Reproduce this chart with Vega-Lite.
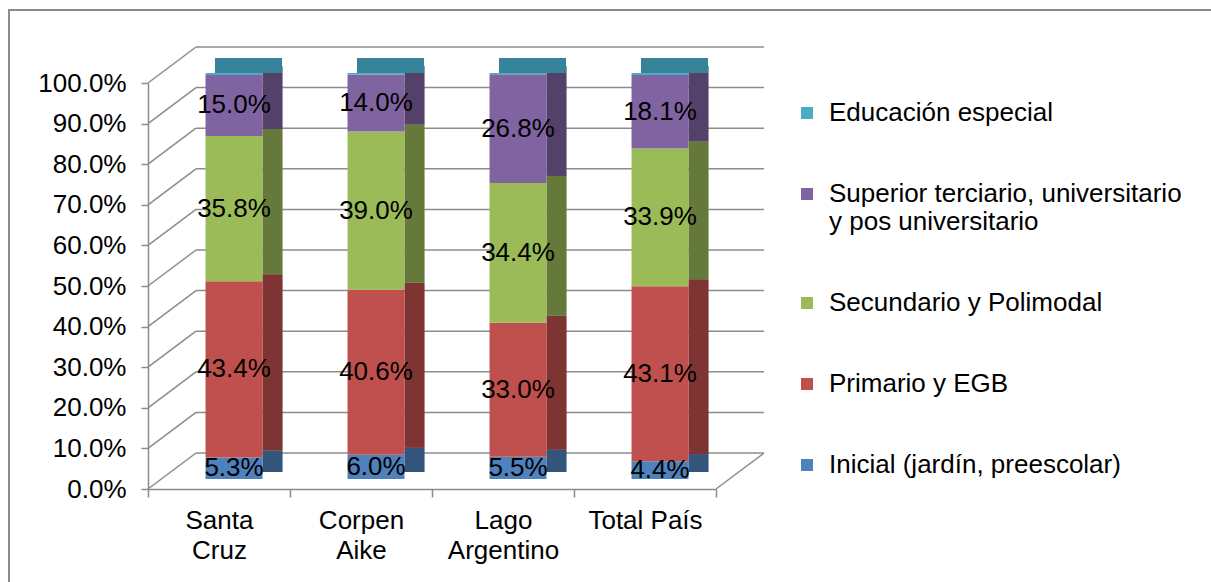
{
  "$schema": "https://vega.github.io/schema/vega-lite/v6.json",
  "width": 1204,
  "height": 574,
  "autosize": {"type": "none"},
  "padding": {"left": 9, "top": 10, "right": -2, "bottom": -2},
  "background": "white",
  "config": {
    "font": "Liberation Sans",
    "view": {"stroke": "#8c8c8c", "strokeWidth": 2},
    "axis": {"title": null, "grid": false}
  },
  "datasets": {
    "niveles": [
      {"region": "Santa Cruz", "nivel": "Inicial (jardín, preescolar)", "orden": 1, "valor": 0.053},
      {"region": "Santa Cruz", "nivel": "Primario y EGB", "orden": 2, "valor": 0.434},
      {"region": "Santa Cruz", "nivel": "Secundario y Polimodal", "orden": 3, "valor": 0.358},
      {"region": "Santa Cruz", "nivel": "Superior terciario, universitario y pos universitario", "orden": 4, "valor": 0.150},
      {"region": "Santa Cruz", "nivel": "Educación especial", "orden": 5, "valor": 0.005},
      {"region": "Corpen Aike", "nivel": "Inicial (jardín, preescolar)", "orden": 1, "valor": 0.060},
      {"region": "Corpen Aike", "nivel": "Primario y EGB", "orden": 2, "valor": 0.406},
      {"region": "Corpen Aike", "nivel": "Secundario y Polimodal", "orden": 3, "valor": 0.390},
      {"region": "Corpen Aike", "nivel": "Superior terciario, universitario y pos universitario", "orden": 4, "valor": 0.140},
      {"region": "Corpen Aike", "nivel": "Educación especial", "orden": 5, "valor": 0.004},
      {"region": "Lago Argentino", "nivel": "Inicial (jardín, preescolar)", "orden": 1, "valor": 0.055},
      {"region": "Lago Argentino", "nivel": "Primario y EGB", "orden": 2, "valor": 0.330},
      {"region": "Lago Argentino", "nivel": "Secundario y Polimodal", "orden": 3, "valor": 0.344},
      {"region": "Lago Argentino", "nivel": "Superior terciario, universitario y pos universitario", "orden": 4, "valor": 0.268},
      {"region": "Lago Argentino", "nivel": "Educación especial", "orden": 5, "valor": 0.003},
      {"region": "Total País", "nivel": "Inicial (jardín, preescolar)", "orden": 1, "valor": 0.044},
      {"region": "Total País", "nivel": "Primario y EGB", "orden": 2, "valor": 0.431},
      {"region": "Total País", "nivel": "Secundario y Polimodal", "orden": 3, "valor": 0.339},
      {"region": "Total País", "nivel": "Superior terciario, universitario y pos universitario", "orden": 4, "valor": 0.181},
      {"region": "Total País", "nivel": "Educación especial", "orden": 5, "valor": 0.005}
    ],
    "grilla": [
      {"v": 0}, {"v": 0.1}, {"v": 0.2}, {"v": 0.3}, {"v": 0.4}, {"v": 0.5},
      {"v": 0.6}, {"v": 0.7}, {"v": 0.8}, {"v": 0.9}, {"v": 1}
    ],
    "regiones": [
      {"region": "Santa Cruz"}, {"region": "Corpen Aike"}, {"region": "Lago Argentino"}, {"region": "Total País"}
    ]
  },
  "layer": [
    {
      "data": {"name": "grilla"},
      "mark": {"type": "rule", "color": "#8c8c8c", "strokeWidth": 1.5, "xOffset": 48, "x2Offset": 48, "yOffset": -36},
      "encoding": {
        "x": {"datum": "Santa Cruz", "type": "nominal", "bandPosition": 0},
        "x2": {"datum": "Total País", "bandPosition": 1},
        "y": {"field": "v", "type": "quantitative"}
      }
    },
    {
      "data": {"name": "grilla"},
      "mark": {"type": "rule", "color": "#8c8c8c", "strokeWidth": 1.5, "x2Offset": 48, "y2Offset": -36},
      "encoding": {
        "x": {"datum": "Santa Cruz", "type": "nominal", "bandPosition": 0},
        "x2": {"datum": "Santa Cruz", "bandPosition": 0},
        "y": {"field": "v", "type": "quantitative"},
        "y2": {"field": "v"}
      }
    },
    {
      "data": {"name": "grilla"},
      "transform": [{"filter": "datum.v == 0"}],
      "mark": {"type": "rule", "color": "#8c8c8c", "strokeWidth": 1.5, "x2Offset": 48, "y2Offset": -36},
      "encoding": {
        "x": {"datum": "Total País", "type": "nominal", "bandPosition": 1},
        "x2": {"datum": "Total País", "bandPosition": 1},
        "y": {"field": "v", "type": "quantitative"},
        "y2": {"field": "v"}
      }
    },
    {
      "data": {"name": "niveles"},
      "mark": {"type": "bar", "width": {"band": 0.141}, "xOffset": 53.5, "yOffset": -17, "y2Offset": -17},
      "encoding": {
        "x": {"field": "region", "type": "nominal"},
        "y": {"field": "valor", "type": "quantitative", "stack": "zero"},
        "color": {"field": "nivel", "type": "nominal"},
        "order": {"field": "orden", "type": "quantitative", "sort": "ascending"}
      }
    },
    {
      "data": {"name": "niveles"},
      "mark": {"type": "bar", "width": {"band": 0.141}, "xOffset": 53.5, "yOffset": -17, "y2Offset": -17, "color": "black", "opacity": 0.35},
      "encoding": {
        "x": {"field": "region", "type": "nominal"},
        "y": {"field": "valor", "type": "quantitative", "stack": "zero"},
        "detail": {"field": "nivel", "type": "nominal"},
        "order": {"field": "orden", "type": "quantitative", "sort": "ascending"}
      }
    },
    {
      "data": {"name": "regiones"},
      "mark": {"type": "bar", "width": {"band": 0.472}, "xOffset": 29.5, "yOffset": -10, "y2Offset": -25, "color": "#37839A"},
      "encoding": {
        "x": {"field": "region", "type": "nominal"},
        "y": {"datum": 1, "type": "quantitative"},
        "y2": {"datum": 1}
      }
    },
    {
      "data": {"name": "niveles"},
      "mark": {"type": "bar", "width": {"band": 0.401}, "xOffset": 15, "yOffset": -10, "y2Offset": -10},
      "encoding": {
        "x": {
          "field": "region",
          "type": "nominal",
          "scale": {"domain": ["Santa Cruz", "Corpen Aike", "Lago Argentino", "Total País"], "range": [139, 707], "paddingInner": 0, "paddingOuter": 0},
          "axis": {
            "title": null,
            "bandPosition": 0.5,
            "tickBand": "extent",
            "labelAngle": 0,
            "labelAlign": "center",
            "labelBaseline": "top",
            "labelFontSize": 26,
            "labelColor": "black",
            "labelExpr": "datum.label == 'Total País' ? datum.label : split(datum.label, ' ')",
            "labelLineHeight": 30,
            "labelPadding": 10,
            "tickSize": 8,
            "tickColor": "#8c8c8c",
            "domainColor": "#8c8c8c",
            "tickWidth": 1.5,
            "domainWidth": 1.5,
            "offset": -95,
            "grid": false
          }
        },
        "y": {
          "field": "valor",
          "type": "quantitative",
          "stack": "zero",
          "scale": {"domain": [0, 1], "range": [479, 73], "nice": false},
          "axis": {
            "title": null,
            "values": [0, 0.1, 0.2, 0.3, 0.4, 0.5, 0.6, 0.7, 0.8, 0.9, 1],
            "format": ".1%",
            "labelFontSize": 26,
            "labelColor": "black",
            "labelPadding": 15,
            "tickSize": 7,
            "tickColor": "#8c8c8c",
            "domainColor": "#8c8c8c",
            "tickWidth": 1.5,
            "domainWidth": 1.5,
            "offset": -139,
            "grid": false
          }
        },
        "color": {
          "field": "nivel",
          "type": "nominal",
          "scale": {
            "domain": ["Educación especial", "Superior terciario, universitario y pos universitario", "Secundario y Polimodal", "Primario y EGB", "Inicial (jardín, preescolar)"],
            "range": ["#4BACC6", "#8064A2", "#9BBB59", "#C0504D", "#4F81BD"]
          },
          "legend": {
            "title": null,
            "orient": "none",
            "legendX": 785,
            "legendY": 90,
            "padding": 0,
            "symbolType": "square",
            "symbolSize": 144,
            "symbolStrokeWidth": 0,
            "symbolOpacity": 1,
            "labelFontSize": 26,
            "labelColor": "black",
            "labelLimit": 600,
            "labelOffset": 9,
            "rowPadding": 55,
            "labelExpr": "datum.label == 'Superior terciario, universitario y pos universitario' ? ['Superior terciario, universitario', 'y pos universitario'] : datum.label"
          }
        },
        "order": {"field": "orden", "type": "quantitative", "sort": "ascending"}
      }
    },
    {
      "data": {"name": "niveles"},
      "transform": [
        {"filter": "datum.orden < 5"},
        {"stack": "valor", "groupby": ["region"], "sort": [{"field": "orden", "order": "ascending"}], "as": ["y0", "y1"]},
        {"calculate": "(datum.y0 + datum.y1) / 2", "as": "medio"}
      ],
      "mark": {"type": "text", "fontSize": 26, "color": "black", "xOffset": 15, "yOffset": -10},
      "encoding": {
        "x": {"field": "region", "type": "nominal"},
        "y": {"field": "medio", "type": "quantitative"},
        "text": {"field": "valor", "type": "quantitative", "format": ".1%"}
      }
    }
  ]
}
